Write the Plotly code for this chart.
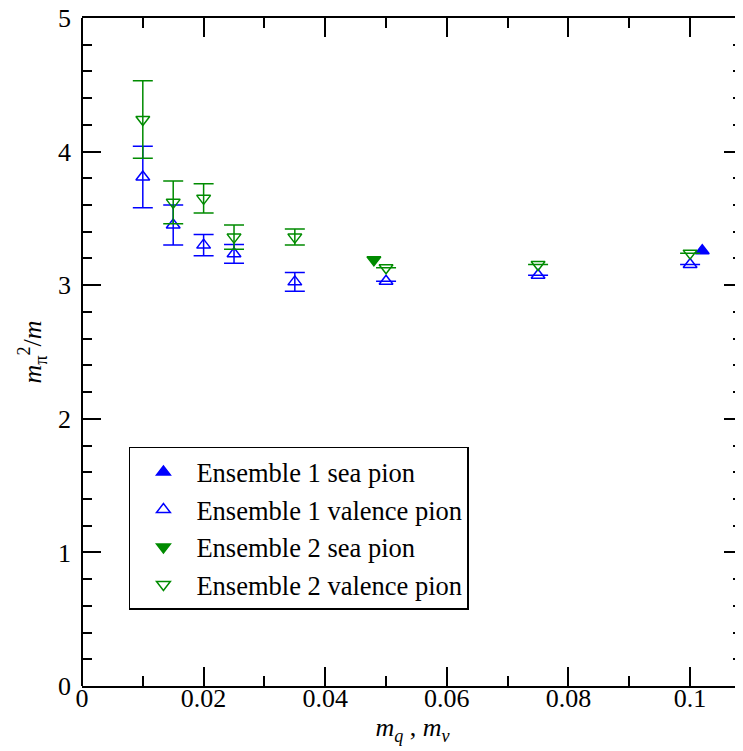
import plotly.graph_objects as go

# ---- data ----
valence_x = [0.01, 0.015, 0.02, 0.025, 0.035, 0.05, 0.075, 0.1]

ens1_sea_x = [0.102]
ens1_sea_y = [3.258]

ens1_val_y = [3.81, 3.45, 3.30, 3.235, 3.025, 3.03, 3.075, 3.155]
ens1_val_err = [0.23, 0.15, 0.08, 0.07, 0.07, 0.0, 0.0, 0.0]

ens2_sea_x = [0.048]
ens2_sea_y = [3.19]

ens2_val_y = [4.24, 3.62, 3.65, 3.36, 3.36, 3.13, 3.155, 3.24]
ens2_val_err = [0.29, 0.16, 0.11, 0.09, 0.06, 0.0, 0.0, 0.0]

# the reference frame runs to x = 0.11, just past the right edge of the image
x_range = [0, 0.1087]
y_range = [0, 5]

BLUE = "rgb(0,0,255)"
GREEN = "rgb(0,139,0)"
FONT = "Liberation Serif, Times New Roman, serif"
MSIZE = 12

fig = go.Figure()

fig.add_trace(go.Scatter(
    x=ens1_sea_x, y=ens1_sea_y, mode="markers", name="Ensemble 1 sea pion",
    marker=dict(symbol="triangle-up", size=MSIZE, color=BLUE, line=dict(width=1.5, color=BLUE)),
))
fig.add_trace(go.Scatter(
    x=valence_x, y=ens1_val_y, mode="markers", name="Ensemble 1 valence pion",
    marker=dict(symbol="triangle-up-open", size=MSIZE, color=BLUE, line=dict(width=1.5, color=BLUE)),
    error_y=dict(type="data", array=ens1_val_err, visible=True, color=BLUE, thickness=1.5, width=10),
))
fig.add_trace(go.Scatter(
    x=ens2_sea_x, y=ens2_sea_y, mode="markers", name="Ensemble 2 sea pion",
    marker=dict(symbol="triangle-down", size=MSIZE, color=GREEN, line=dict(width=1.5, color=GREEN)),
))
fig.add_trace(go.Scatter(
    x=valence_x, y=ens2_val_y, mode="markers", name="Ensemble 2 valence pion",
    marker=dict(symbol="triangle-down-open", size=MSIZE, color=GREEN, line=dict(width=1.5, color=GREEN)),
    error_y=dict(type="data", array=ens2_val_err, visible=True, color=GREEN, thickness=1.5, width=10),
))

common = dict(
    ticks="inside", ticklen=19, tickwidth=1.5, tickcolor="black",
    showgrid=False, zeroline=False, linecolor="black", linewidth=2,
    tickfont=dict(family=FONT, size=26, color="black"),
    ticklabeloverflow="allow", automargin=False,
)

fig.update_xaxes(
    range=x_range, tick0=0, dtick=0.02,
    showline=True, mirror="ticks",
    minor=dict(dtick=0.01, ticks="inside", ticklen=10, tickwidth=1.5, tickcolor="black", showgrid=False),
    title=dict(text="<i>m</i><sub><i>q</i></sub> , <i>m</i><sub><i>v</i></sub>",
               font=dict(family=FONT, size=26, color="black"), standoff=2),
    ticklabelstandoff=-12,
    **common,
)
fig.update_yaxes(
    range=y_range, tick0=0, dtick=1,
    showline=False, mirror="ticks",
    minor=dict(dtick=0.2, ticks="inside", ticklen=10, tickwidth=1.5, tickcolor="black", showgrid=False),
    title=dict(text="<i>m</i><sub>π</sub><sup>2</sup>/<i>m</i>",
               font=dict(family=FONT, size=26, color="black"), standoff=8),
    ticklabelstandoff=10,
    **common,
)

# left frame line (the right one lies outside the picture in the reference)
fig.add_shape(type="line", xref="x domain", yref="y domain", x0=0, x1=0, y0=0, y1=1,
              line=dict(color="black", width=2))

# the page places the figure 8 px in from the top-left corner
fig.update_layout(
    width=735, height=743,
    margin=dict(l=74, r=0, t=10, b=65),
    plot_bgcolor="white", paper_bgcolor="white",
    showlegend=True,
    legend=dict(
        x=0.071, y=0.358, xanchor="left", yanchor="top",
        bgcolor="white", bordercolor="black", borderwidth=1.5,
        font=dict(family=FONT, size=26.5, color="black"),
        itemwidth=56, tracegroupgap=0,
    ),
)

fig.write_html("out.html")
